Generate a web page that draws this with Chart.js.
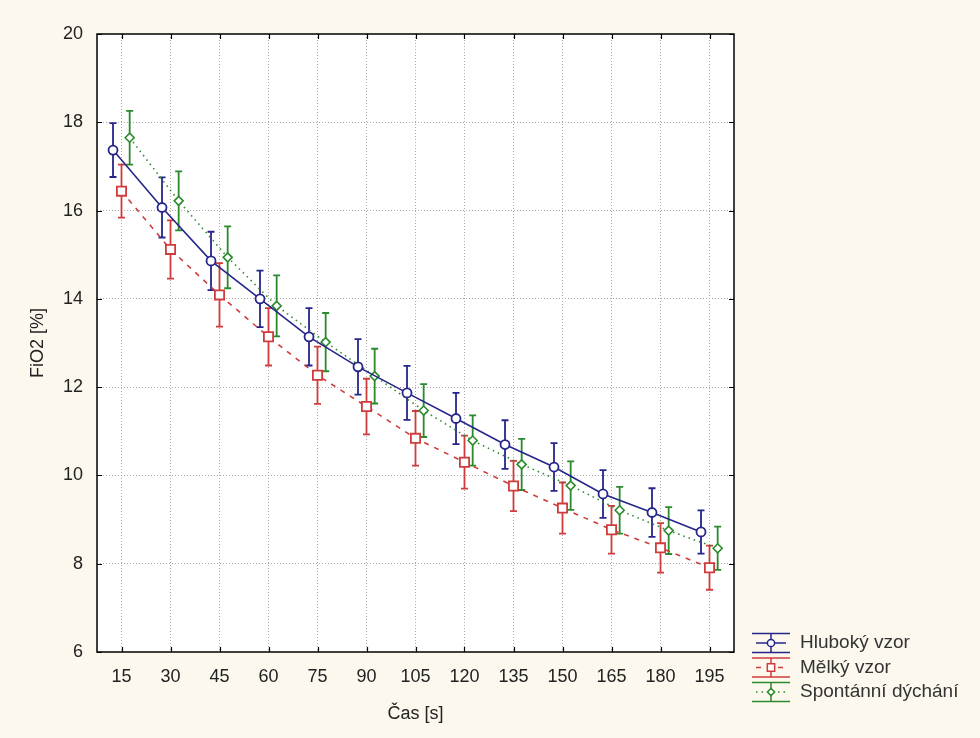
<!DOCTYPE html>
<html>
<head>
<meta charset="utf-8">
<script src="https://cdn.jsdelivr.net/npm/chart.js@4.4.1/dist/chart.umd.min.js"></script>
<style>
  html, body { margin: 0; padding: 0; background: #fcf8ee; }
  #wrap { width: 980px; height: 738px; }
</style>
</head>
<body>
<div id="wrap"><canvas id="c" width="980" height="738"></canvas></div>
<script>
// Time points (s)
const times = [15, 30, 45, 60, 75, 90, 105, 120, 135, 150, 165, 180, 195];

// FiO2 means [%] and error half-widths per breathing pattern
const deep      = [17.37, 16.07, 14.86, 14.00, 13.14, 12.46, 11.87, 11.29, 10.70, 10.19, 9.58, 9.16, 8.72];
const deepErr   = [0.61, 0.68, 0.66, 0.64, 0.65, 0.63, 0.61, 0.58, 0.55, 0.54, 0.54, 0.55, 0.49];
const shallow    = [16.44, 15.12, 14.09, 13.14, 12.27, 11.56, 10.84, 10.30, 9.76, 9.26, 8.77, 8.36, 7.91];
const shallowErr = [0.60, 0.66, 0.72, 0.65, 0.65, 0.63, 0.62, 0.60, 0.57, 0.58, 0.54, 0.56, 0.50];
const spont     = [17.65, 16.22, 14.94, 13.84, 13.02, 12.25, 11.47, 10.79, 10.25, 9.77, 9.21, 8.75, 8.35];
const spontErr  = [0.61, 0.67, 0.70, 0.69, 0.66, 0.62, 0.60, 0.57, 0.58, 0.55, 0.53, 0.53, 0.49];

const seriesLabels = ['Hluboký vzor', 'Mělký vzor', 'Spontánní dýchání'];

// Horizontal dodge of each series around its time point (axis units)
const DODGE = [-2.6, 0, 2.5];

const FONT = "'Liberation Sans', Arial, sans-serif";
const COLORS = ['#26268a', '#d03c3c', '#2b8a2b'];

function points(vals, k) {
  return times.map((t, i) => ({ x: t + DODGE[k], y: vals[i] }));
}

const bgPlugin = {
  id: 'bgPlugin',
  beforeDraw(chart) {
    const { ctx, chartArea: a } = chart;
    ctx.save();
    ctx.fillStyle = '#fcf8ee';
    ctx.fillRect(0, 0, chart.width, chart.height);
    ctx.fillStyle = '#ffffff';
    ctx.fillRect(a.left, a.top, a.right - a.left, a.bottom - a.top);
    ctx.restore();
  }
};

// Vertical whiskers with caps, drawn beneath the lines and markers
const errorBarPlugin = {
  id: 'errorBarPlugin',
  beforeDatasetsDraw(chart) {
    const { ctx } = chart;
    const ys = chart.scales.y;
    chart.data.datasets.forEach((ds, di) => {
      const meta = chart.getDatasetMeta(di);
      ctx.save();
      ctx.strokeStyle = ds.borderColor;
      ctx.lineWidth = 1.8;
      meta.data.forEach((pt, i) => {
        const v = ds.data[i].y, e = ds.errors[i];
        const yTop = ys.getPixelForValue(v + e);
        const yBot = ys.getPixelForValue(v - e);
        const x = pt.x;
        ctx.beginPath();
        ctx.moveTo(x, yTop); ctx.lineTo(x, yBot);
        ctx.moveTo(x - 3.5, yTop); ctx.lineTo(x + 3.5, yTop);
        ctx.moveTo(x - 3.5, yBot); ctx.lineTo(x + 3.5, yBot);
        ctx.stroke();
      });
      ctx.restore();
    });
  }
};

// Plot frame with inward tick marks on all four sides
const framePlugin = {
  id: 'framePlugin',
  afterDraw(chart) {
    const { ctx, chartArea: a } = chart;
    const xs = chart.scales.x, ys = chart.scales.y;
    ctx.save();
    ctx.strokeStyle = '#000';
    ctx.lineWidth = 1.5;
    ctx.strokeRect(a.left, a.top, a.right - a.left, a.bottom - a.top);
    ctx.lineWidth = 1.2;
    ctx.beginPath();
    xs.ticks.forEach(t => {
      const x = Math.round(xs.getPixelForValue(t.value)) + 0.5;
      ctx.moveTo(x, a.bottom); ctx.lineTo(x, a.bottom - 5);
      ctx.moveTo(x, a.top); ctx.lineTo(x, a.top + 5);
    });
    ys.ticks.forEach(t => {
      const y = Math.round(ys.getPixelForValue(t.value)) + 0.5;
      ctx.moveTo(a.left, y); ctx.lineTo(a.left + 5, y);
      ctx.moveTo(a.right, y); ctx.lineTo(a.right - 5, y);
    });
    ctx.stroke();
    ctx.restore();
  }
};

// Legend placed below-right of the plot
const LEGEND = { left: 752, iconW: 38, top: 643, pitch: 24.5, textX: 800 };
const legendPlugin = {
  id: 'sideLegend',
  afterDraw(chart) {
    const { ctx } = chart;
    chart.data.datasets.forEach((ds, i) => {
      const cy = LEGEND.top + i * LEGEND.pitch;
      const x0 = LEGEND.left, x1 = LEGEND.left + LEGEND.iconW, cx = (x0 + x1) / 2;
      ctx.save();
      ctx.strokeStyle = ds.borderColor;
      ctx.lineWidth = 1.5;
      ctx.beginPath();
      ctx.moveTo(x0, cy - 9.5); ctx.lineTo(x1, cy - 9.5);
      ctx.moveTo(x0, cy + 9.5); ctx.lineTo(x1, cy + 9.5);
      ctx.moveTo(cx, cy - 9.5); ctx.lineTo(cx, cy + 9.5);
      ctx.stroke();
      ctx.setLineDash(ds.borderDash || []);
      ctx.beginPath();
      ctx.moveTo(x0 + 4, cy); ctx.lineTo(x1 - 4, cy);
      ctx.stroke();
      ctx.setLineDash([]);
      ctx.fillStyle = '#ffffff';
      Chart.helpers.drawPoint(ctx, {
        pointStyle: ds.pointStyle, radius: ds.pointRadius * 0.8,
        rotation: 0, borderWidth: 1.5
      }, cx, cy);
      ctx.fillStyle = '#333333';
      ctx.font = '19px ' + FONT;
      ctx.textAlign = 'left';
      ctx.textBaseline = 'middle';
      ctx.fillText(ds.label, LEGEND.textX, cy);
      ctx.restore();
    });
  }
};

new Chart(document.getElementById('c'), {
  type: 'line',
  data: {
    datasets: [
      {
        label: seriesLabels[0], data: points(deep, 0), errors: deepErr,
        borderColor: COLORS[0], backgroundColor: COLORS[0], borderWidth: 1.6,
        pointStyle: 'circle', pointRadius: 4.5, pointBorderWidth: 1.8,
        pointBackgroundColor: '#ffffff', pointBorderColor: COLORS[0]
      },
      {
        label: seriesLabels[1], data: points(shallow, 1), errors: shallowErr,
        borderColor: COLORS[1], backgroundColor: COLORS[1], borderWidth: 1.6,
        borderDash: [5, 6],
        pointStyle: 'rect', pointRadius: 6.5, pointBorderWidth: 1.8,
        pointBackgroundColor: '#ffffff', pointBorderColor: COLORS[1]
      },
      {
        label: seriesLabels[2], data: points(spont, 2), errors: spontErr,
        borderColor: COLORS[2], backgroundColor: COLORS[2], borderWidth: 1.6,
        borderDash: [1.5, 4],
        pointStyle: 'rectRot', pointRadius: 4.5, pointBorderWidth: 1.6,
        pointBackgroundColor: '#ffffff', pointBorderColor: COLORS[2]
      }
    ]
  },
  options: {
    responsive: false,
    animation: false,
    devicePixelRatio: 1,
    layout: { padding: { top: 34, right: 246, bottom: 0, left: 0 } },
    plugins: { legend: { display: false }, tooltip: { enabled: false } },
    scales: {
      x: {
        type: 'linear', min: 7.5, max: 202.5,
        afterBuildTicks: s => { s.ticks = times.map(v => ({ value: v })); },
        afterFit: s => { s.height = 86; },
        grid: {
          color: '#a8a8a8', lineWidth: 1, drawTicks: false
        },
        border: { display: false, dash: [1, 2] },
        ticks: {
          padding: 14, color: '#222', font: { family: FONT, size: 18 },
          autoSkip: false, maxRotation: 0
        },
        title: {
          display: true, text: 'Čas [s]', color: '#222',
          font: { family: FONT, size: 18 }, padding: { top: 0, bottom: 13 }
        }
      },
      y: {
        min: 6, max: 20,
        ticks: {
          stepSize: 2, padding: 14, color: '#222', font: { family: FONT, size: 18 }
        },
        afterFit: s => { s.width = 97; },
        grid: {
          color: c => (c.tick && (c.tick.value === 6 || c.tick.value === 20)) ? 'rgba(0,0,0,0)' : '#a8a8a8',
          lineWidth: 1, drawTicks: false
        },
        border: { display: false, dash: [1, 2] },
        title: {
          display: true, text: 'FiO2 [%]', color: '#222',
          font: { family: FONT, size: 18 }, padding: { top: 27, bottom: 0 }
        }
      }
    }
  },
  plugins: [bgPlugin, errorBarPlugin, framePlugin, legendPlugin]
});
</script>
</body>
</html>
